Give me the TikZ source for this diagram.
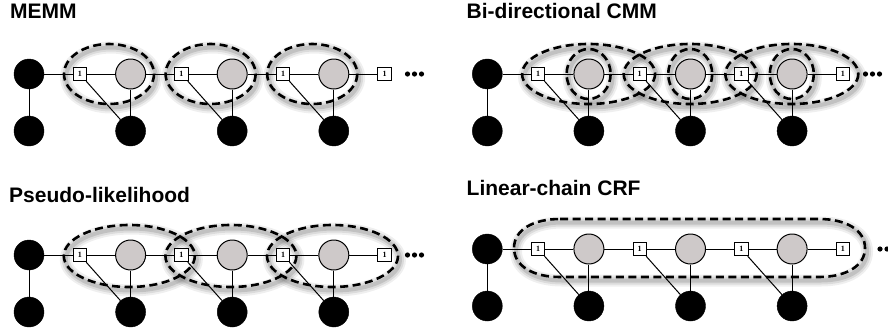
\documentclass[tikz,border=0pt]{standalone}
\usepackage{fontspec}
\setmainfont{Liberation Sans}
\newfontfamily\facfont{Liberation Serif}
\definecolor{latgrey}{RGB}{206,201,201}
\pgfdeclarelayer{background}
\pgfsetlayers{background,main}
\tikzset{
 blk/.style={circle, fill=black, draw=black, minimum size=30pt, inner sep=0pt},
 lat/.style={circle, fill=latgrey, draw=black, line width=1pt, minimum size=30pt, inner sep=0pt},
 fac/.style={rectangle, fill=white, draw=black, line width=0.9pt, minimum size=13.5pt, inner sep=0pt, font=\facfont\bfseries\fontsize{8}{8}\selectfont},
 conn/.style={line width=1pt, draw=black},
 ring/.style={draw=black, line width=2.6pt, dash pattern=on 8pt off 4.5pt},
 title/.style={anchor=base west, inner sep=0pt, font=\bfseries\fontsize{21}{21}\selectfont},
}
\newcommand\shadowed[1]{%
  \begin{pgfonlayer}{background}
    \draw[shift={(2,3.5)}, draw=black!60, opacity=0.10, line width=12pt] #1;
    \draw[shift={(2,3.5)}, draw=black!60, opacity=0.15, line width=8pt] #1;
    \draw[shift={(2,3.5)}, draw=black!60, opacity=0.22, line width=4pt] #1;
  \end{pgfonlayer}
  \draw[ring] #1;
}
\newcommand\buildchain[5]{%
  \node[blk] (#1t0) at (#2,#3) {};
  \node[blk] (#1b0) at (#2,#4) {};
  \foreach \k in {1,2,3}{
    \node[fac] (#1s\k) at ({#2+50.8*(2*\k-1)},#3) {1};
    \node[lat] (#1g\k) at ({#2+101.6*\k},#3) {};
    \node[blk] (#1b\k) at ({#2+101.6*\k},#4) {};
  }
  \node[fac] (#1s4) at ({#2+50.8*7},#3) {1};
  \draw[conn] (#1b0) -- (#1t0) -- (#1s1);
  \foreach \k [evaluate=\k as \nk using int(\k+1)] in {1,2,3}{
    \draw[conn] (#1s\k) -- (#1g\k) -- (#1s\nk);
    \draw[conn] (#1g\k) -- (#1b\k);
    \draw[conn] (#1s\k) -- (#1b\k);
  }
  \foreach \d in {0,7,14}{ \fill ({#5+\d},#3) circle[radius=2.6]; }
}
\begin{document}
\begin{tikzpicture}[x=1pt,y=-1pt]
\useasboundingbox (0,0) rectangle (888,335);
% titles
\node[title] (t1) at (10,18.5) {MEMM};
\node[title] (t2) at (466.5,18.5) {Bi-directional CMM};
\node[title] (t3) at (9,202) {Pseudo-likelihood};
\node[title] (t4) at (466.5,195) {Linear-chain CRF};
% chains
\buildchain{a}{29}{74}{131}{407.5}
\buildchain{b}{487.3}{74}{131}{865.5}
\buildchain{c}{29}{255}{312}{407.5}
\buildchain{d}{487.3}{249}{306}{880}
% MEMM rings
\foreach \k in {0,1,2}{ \shadowed{({109+101.6*\k},74) ellipse [x radius=45, y radius=30]} }
% Bi-directional rings
\foreach \k in {0,1,2}{
  \shadowed{({588.6+101.6*\k},74) ellipse [x radius=66.5, y radius=30]}
  \shadowed{({588.6+101.6*\k},74) ellipse [x radius=22, y radius=25]}
}
% Pseudo-likelihood rings
\foreach \k in {0,1,2}{ \shadowed{({129.3+101.6*\k},256) ellipse [x radius=65.5, y radius=31]} }
% CRF ring
\shadowed{(560,219) -- (819,219) .. controls (846,219) and (865,230) .. (865,248) .. controls (865,266) and (846,277) .. (819,277) -- (560,277) .. controls (533,277) and (514,266) .. (514,248) .. controls (514,230) and (533,219) .. (560,219) -- cycle}
\end{tikzpicture}
\end{document}
